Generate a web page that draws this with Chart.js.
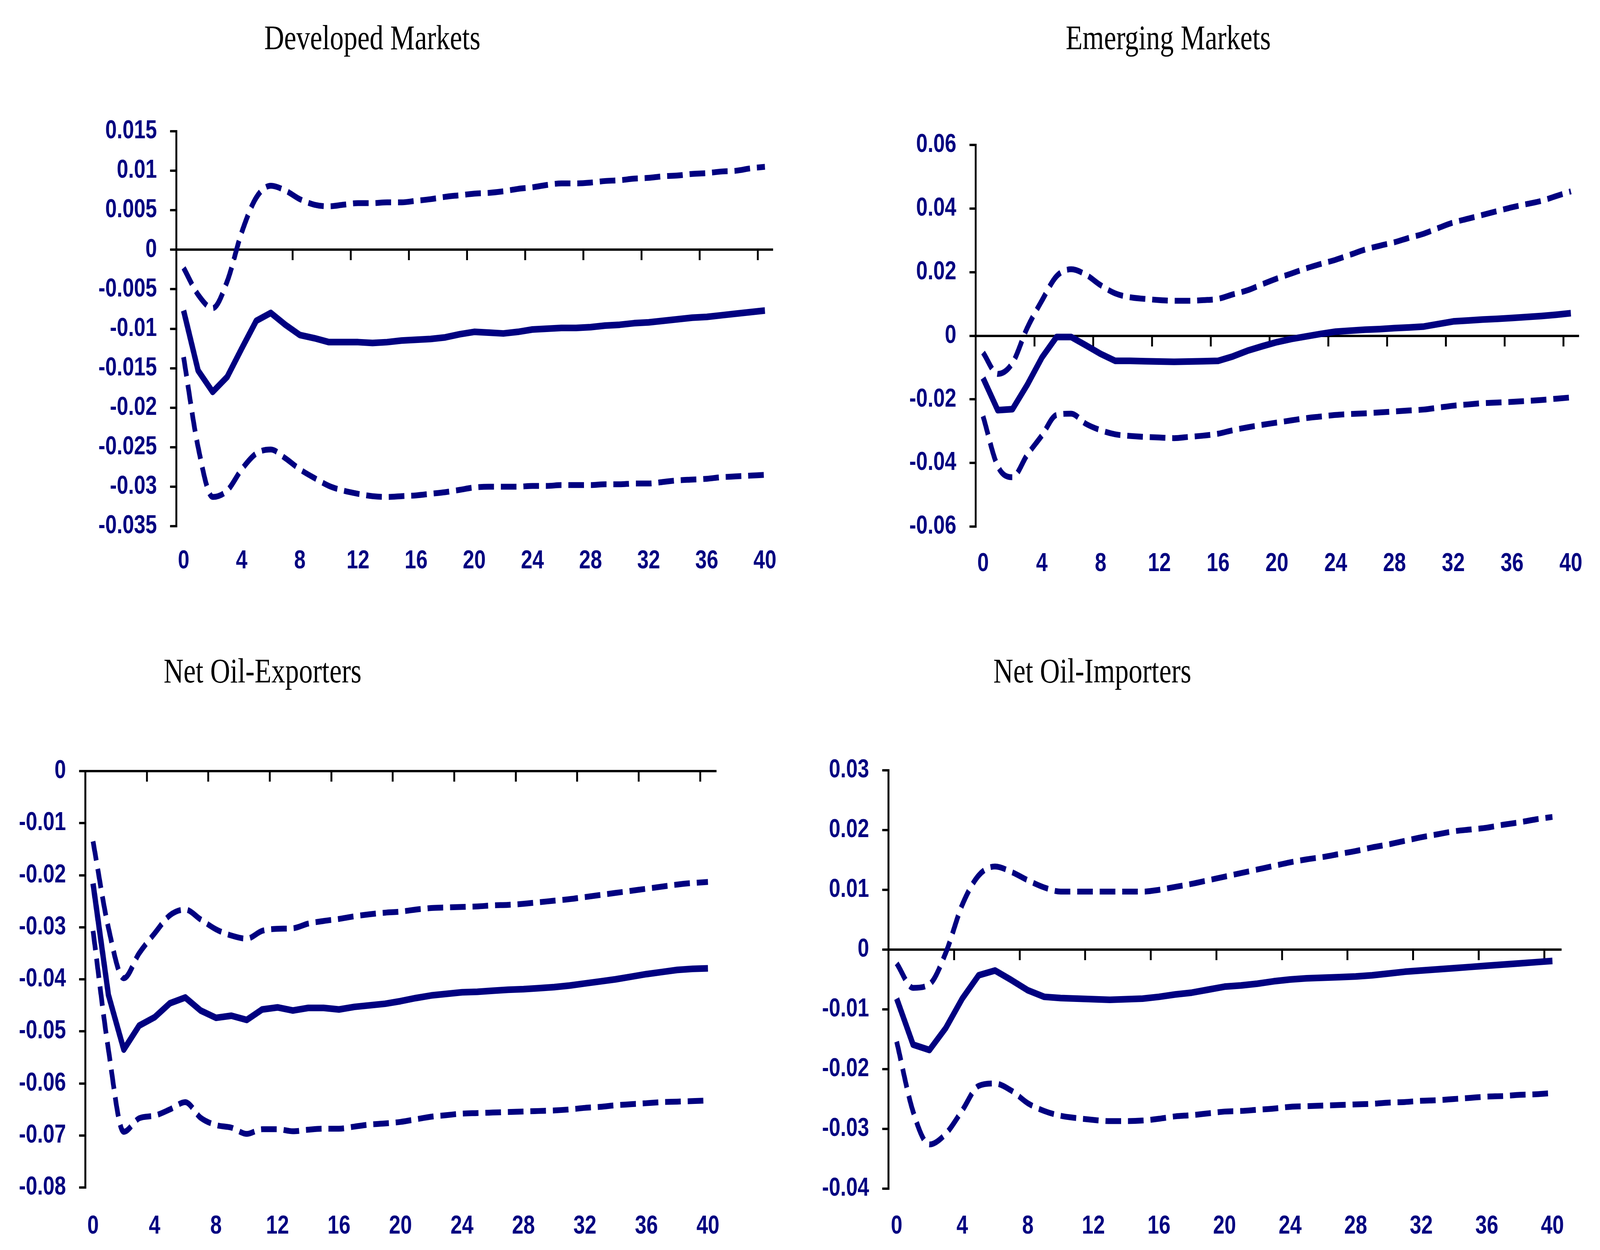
<!DOCTYPE html>
<html>
<head>
<meta charset="utf-8">
<script src="https://cdn.jsdelivr.net/npm/chart.js@4.4.1/dist/chart.umd.min.js"></script>
<style>
  html, body { margin: 0; padding: 0; background: #fff; overflow: hidden; }
  #frame { position: relative; overflow: hidden; background: #fff; }
  #page { width: 5118px; height: 3200px; position: absolute; left: 0; top: 0; transform-origin: 0 0; background: #fff; }
  canvas { position: absolute; }
  .title {
    position: absolute; width: 1200px; text-align: center;
    font-family: "Liberation Serif", "Times New Roman", serif;
    font-size: 88px; line-height: 1; color: #000; white-space: nowrap;
  }
</style>
</head>
<body>
<div id="frame">
<div id="page">
<div class="title" style="left:591px;top:53px">Developed Markets</div>
<div class="title" style="left:3137px;top:53px">Emerging Markets</div>
<div class="title" style="left:240px;top:1674px">Net Oil-Exporters</div>
<div class="title" style="left:2894px;top:1674px">Net Oil-Importers</div>

<canvas id="dev" width="2559" height="1360" style="left:0;top:200px;width:2559px;height:1360px"></canvas>
<canvas id="emg" width="2559" height="1360" style="left:2559px;top:200px;width:2559px;height:1360px"></canvas>
<canvas id="exp" width="2559" height="1380" style="left:0;top:1820px;width:2559px;height:1380px"></canvas>
<canvas id="imp" width="2559" height="1380" style="left:2559px;top:1820px;width:2559px;height:1380px"></canvas>
</div>
</div>

<script>
// stretch the 5118 x 3200 design over the whole window
const frame = document.getElementById('frame');
const page = document.getElementById('page');
const vw = window.innerWidth, vh = window.innerHeight;
const sx = vw / 5118, sy = vh / 3200;
page.style.transform = 'scale(' + sx + ',' + sy + ')';
frame.style.width = vw + 'px';
frame.style.height = vh + 'px';
const pixelRatio = Math.max(sx, sy) * (window.devicePixelRatio || 1);

// quarters after the shock
const horizon = ['0','1','2','3','4','5','6','7','8','9','10','11','12','13','14','15','16','17','18','19','20',
  '21','22','23','24','25','26','27','28','29','30','31','32','33','34','35','36','37','38','39','40'];

// Developed Markets
const devMid = [-0.0077, -0.0153, -0.0180, -0.0161, -0.0125, -0.0090, -0.0080, -0.0095, -0.0108, -0.0112,
  -0.0117, -0.0117, -0.0117, -0.0118, -0.0117, -0.0115, -0.0114, -0.0113, -0.0111, -0.0107,
  -0.0104, -0.0105, -0.0106, -0.0104, -0.0101, -0.0100, -0.0099, -0.0099, -0.0098, -0.0096,
  -0.0095, -0.0093, -0.0092, -0.0090, -0.0088, -0.0086, -0.0085, -0.0083, -0.0081, -0.0079, -0.0077];
const devUp = [-0.0023, -0.0057, -0.0074, -0.0040, 0.0022, 0.0066, 0.0081, 0.0075, 0.0064, 0.0057,
  0.0055, 0.0057, 0.0059, 0.0059, 0.0060, 0.0060, 0.0062, 0.0064, 0.0067, 0.0069,
  0.0071, 0.0072, 0.0074, 0.0077, 0.0079, 0.0082, 0.0084, 0.0084, 0.0085, 0.0087,
  0.0088, 0.0090, 0.0091, 0.0093, 0.0094, 0.0096, 0.0097, 0.0099, 0.0100, 0.0103, 0.0105];
const devLow = [-0.0136, -0.0250, -0.0313, -0.0305, -0.0278, -0.0258, -0.0253, -0.0264, -0.0278, -0.0289,
  -0.0299, -0.0305, -0.0309, -0.0312, -0.0313, -0.0312, -0.0311, -0.0309, -0.0307, -0.0304,
  -0.0301, -0.0300, -0.0300, -0.0300, -0.0299, -0.0299, -0.0298, -0.0298, -0.0298, -0.0297,
  -0.0297, -0.0296, -0.0296, -0.0294, -0.0292, -0.0291, -0.0290, -0.0288, -0.0287, -0.0286, -0.0285];

// Emerging Markets
const emgMid = [-0.0133, -0.0234, -0.0231, -0.0155, -0.0069, -0.0004, -0.0004, -0.0030, -0.0057, -0.0079,
  -0.0079, -0.0080, -0.0081, -0.0082, -0.0081, -0.0080, -0.0079, -0.0065, -0.0047, -0.0033,
  -0.0020, -0.0010, -0.0002, 0.0006, 0.0013, 0.0016, 0.0019, 0.0021, 0.0024, 0.0026,
  0.0029, 0.0037, 0.0045, 0.0048, 0.0051, 0.0053, 0.0056, 0.0059, 0.0062, 0.0066, 0.0071];
const emgUp = [-0.0053, -0.0120, -0.0086, 0.0024, 0.0110, 0.0187, 0.0209, 0.0192, 0.0159, 0.0133,
  0.0121, 0.0116, 0.0112, 0.0110, 0.0110, 0.0112, 0.0116, 0.0130, 0.0143, 0.0162,
  0.0180, 0.0196, 0.0212, 0.0226, 0.0239, 0.0255, 0.0271, 0.0283, 0.0294, 0.0308,
  0.0321, 0.0339, 0.0356, 0.0368, 0.0380, 0.0392, 0.0404, 0.0414, 0.0424, 0.0439, 0.0454];
const emgLow = [-0.0253, -0.0410, -0.0445, -0.0375, -0.0314, -0.0249, -0.0245, -0.0277, -0.0297, -0.0310,
  -0.0315, -0.0318, -0.0320, -0.0322, -0.0318, -0.0314, -0.0308, -0.0297, -0.0288, -0.0280,
  -0.0273, -0.0266, -0.0259, -0.0254, -0.0249, -0.0246, -0.0244, -0.0241, -0.0238, -0.0235,
  -0.0232, -0.0226, -0.0220, -0.0216, -0.0212, -0.0210, -0.0208, -0.0205, -0.0202, -0.0198, -0.0194];

// Net Oil-Exporters
const expMid = [-0.0216, -0.0430, -0.0535, -0.0489, -0.0473, -0.0446, -0.0435, -0.0460, -0.0474, -0.0470,
  -0.0478, -0.0458, -0.0454, -0.0460, -0.0455, -0.0455, -0.0458, -0.0453, -0.0450, -0.0447,
  -0.0442, -0.0436, -0.0431, -0.0428, -0.0425, -0.0424, -0.0422, -0.0420, -0.0419, -0.0417,
  -0.0415, -0.0412, -0.0408, -0.0404, -0.0400, -0.0395, -0.0390, -0.0386, -0.0382, -0.0380, -0.0379];
const expUp = [-0.0135, -0.0301, -0.0398, -0.0350, -0.0312, -0.0277, -0.0266, -0.0285, -0.0304, -0.0316,
  -0.0322, -0.0307, -0.0303, -0.0302, -0.0293, -0.0288, -0.0284, -0.0279, -0.0275, -0.0272,
  -0.0270, -0.0266, -0.0263, -0.0262, -0.0261, -0.0260, -0.0258, -0.0257, -0.0255, -0.0252,
  -0.0249, -0.0246, -0.0242, -0.0238, -0.0234, -0.0230, -0.0226, -0.0222, -0.0218, -0.0215, -0.0213];
const expLow = [-0.0307, -0.0535, -0.0693, -0.0667, -0.0662, -0.0650, -0.0636, -0.0666, -0.0680, -0.0685,
  -0.0697, -0.0688, -0.0688, -0.0692, -0.0689, -0.0687, -0.0687, -0.0683, -0.0679, -0.0677,
  -0.0674, -0.0669, -0.0664, -0.0661, -0.0658, -0.0657, -0.0656, -0.0655, -0.0654, -0.0653,
  -0.0652, -0.0650, -0.0647, -0.0645, -0.0642, -0.0640, -0.0638, -0.0636, -0.0635, -0.0634, -0.0633];

// Net Oil-Importers
const impMid = [-0.0082, -0.0159, -0.0168, -0.0131, -0.0082, -0.0043, -0.0035, -0.0051, -0.0068, -0.0079,
  -0.0081, -0.0082, -0.0083, -0.0084, -0.0083, -0.0082, -0.0079, -0.0075, -0.0072, -0.0067,
  -0.0062, -0.0060, -0.0057, -0.0053, -0.0050, -0.0048, -0.0047, -0.0046, -0.0045, -0.0043,
  -0.0040, -0.0037, -0.0035, -0.0033, -0.0031, -0.0029, -0.0027, -0.0025, -0.0023, -0.0021, -0.0019];
const impUp = [-0.0023, -0.0064, -0.0058, -0.0005, 0.0075, 0.0124, 0.0139, 0.0130, 0.0116, 0.0104,
  0.0097, 0.0097, 0.0097, 0.0097, 0.0097, 0.0097, 0.0100, 0.0105, 0.0110, 0.0116,
  0.0122, 0.0128, 0.0134, 0.0140, 0.0146, 0.0151, 0.0155, 0.0160, 0.0165, 0.0171,
  0.0176, 0.0182, 0.0188, 0.0193, 0.0198, 0.0201, 0.0204, 0.0209, 0.0213, 0.0218, 0.0222];
const impLow = [-0.0154, -0.0271, -0.0326, -0.0308, -0.0269, -0.0228, -0.0224, -0.0236, -0.0257, -0.0270,
  -0.0278, -0.0282, -0.0285, -0.0287, -0.0287, -0.0286, -0.0283, -0.0279, -0.0277, -0.0274,
  -0.0271, -0.0270, -0.0268, -0.0266, -0.0263, -0.0262, -0.0261, -0.0260, -0.0259, -0.0258,
  -0.0256, -0.0255, -0.0253, -0.0252, -0.0250, -0.0248, -0.0246, -0.0245, -0.0243, -0.0242, -0.0240];

const navy = '#000080';
const tickFont = { family: '"Liberation Sans", Arial, sans-serif', size: 66, weight: 'bold' };

function lineSet(data, dashed) {
  return {
    data: data,
    xAxisID: 'x',
    yAxisID: 'y',
    borderColor: navy,
    borderWidth: dashed ? 15 : 17,
    borderDash: dashed ? [50, 22] : [],
    borderCapStyle: 'butt',
    borderJoinStyle: 'round',
    cubicInterpolationMode: dashed ? 'monotone' : 'default',
    tension: 0,
    pointRadius: 0,
    fill: false,
  };
}

// area = plot rectangle inside the canvas, labelPad = gap from plot bottom to x labels
function makePanel(id, area, yMin, yMax, yStep, labelPad, mid, up, low) {
  const canvas = document.getElementById(id);
  const W = canvas.width, H = canvas.height;
  const xHeight = 150;
  return new Chart(canvas, {
    type: 'line',
    data: {
      labels: horizon,
      datasets: [lineSet(up, true), lineSet(low, true), lineSet(mid, false)],
    },
    options: {
      responsive: false,
      animation: false,
      events: [],
      devicePixelRatio: pixelRatio,
      layout: {
        padding: { left: 0, top: area.top, right: W - area.right, bottom: H - area.bottom - xHeight }
      },
      plugins: { legend: { display: false }, tooltip: { enabled: false } },
      scales: {
        x: {
          type: 'category',
          position: 'bottom',
          offset: true,
          afterFit: (s) => { s.height = xHeight; },
          border: { display: false },
          grid: { display: false, drawTicks: false },
          ticks: {
            autoSkip: false, maxRotation: 0, minRotation: 0,
            padding: labelPad,
            color: navy, font: tickFont,
            callback: (v, i) => (i % 4 === 0 ? horizon[i] : ''),
          },
        },
        // the axis line drawn through zero, with the marks every 4 quarters
        xz: {
          type: 'category',
          position: { y: 0 },
          offset: true,
          border: { display: true, color: '#000', width: 6 },
          grid: {
            offset: true,
            drawOnChartArea: false,
            drawTicks: true,
            tickLength: 24,
            lineWidth: 6,
            tickWidth: 6,
            color: (c) => (c.index % 4 === 0 ? '#000' : 'rgba(0,0,0,0)'),
            tickColor: (c) => (c.index % 4 === 0 ? '#000' : 'rgba(0,0,0,0)'),
          },
          ticks: { display: false },
        },
        y: {
          type: 'linear',
          position: 'left',
          min: yMin,
          max: yMax,
          afterFit: (s) => { s.width = area.left; },
          border: { display: true, color: '#000', width: 6 },
          grid: {
            drawOnChartArea: false,
            drawTicks: true,
            tickLength: 20,
            lineWidth: 6,
            color: '#000',
          },
          ticks: {
            stepSize: yStep,
            padding: 42,
            color: navy,
            font: tickFont,
            callback: (v) => String(parseFloat(Number(v).toFixed(4))),
          },
        },
      },
    },
  });
}

makePanel('dev', { left: 564, top: 136, right: 2470, bottom: 1147 }, -0.035, 0.015, 0.005, 50, devMid, devUp, devLow);
makePanel('emg', { left: 562, top: 171, right: 2507, bottom: 1148 }, -0.06, 0.06, 0.02, 56, emgMid, emgUp, emgLow);
makePanel('exp', { left: 273, top: 154, right: 2289, bottom: 1220 }, -0.08, 0, 0.01, 60, expMid, expUp, expLow);
makePanel('imp', { left: 283, top: 152, right: 2433, bottom: 1223 }, -0.04, 0.03, 0.01, 57, impMid, impUp, impLow);
</script>
</body>
</html>
